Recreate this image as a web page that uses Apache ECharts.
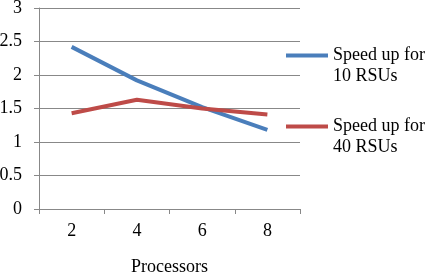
<!DOCTYPE html>
<html>
<head>
<meta charset="utf-8">
<script src="https://cdn.jsdelivr.net/npm/echarts@6/dist/echarts.min.js"></script>
<style>
  html, body { margin: 0; padding: 0; background: #fff; }
  #chart { width: 428px; height: 274px; }
</style>
</head>
<body>
<div id="chart"></div>
<script>
// 处理器数量 vs 加速比
var processors = ["2", "4", "6", "8"];
var speed10 = [2.42, 1.92, 1.52, 1.18];
var speed40 = [1.43, 1.63, 1.50, 1.41];
var seriesNames = ["Speed up for 10 RSUs", "Speed up for 40 RSUs"];
var yTicks = [0, 0.5, 1, 1.5, 2, 2.5, 3];

(function(){
  var myChart = echarts.init(document.getElementById('chart'));
  var font = "Liberation Serif";
  var option = {
    animation: false,
    grid: {
      left: 39,
      right: 128,
      top: 8,
      bottom: 65,
      outerBoundsMode: "none"
    },
    legend: {
      orient: "vertical",
      left: 286,
      top: 24,
      padding: 0,
      itemWidth: 42,
      itemHeight: 4,
      itemGap: 8,
      icon: "rect",
      data: seriesNames,
      // 空行放前面，让图例线对齐第一行文字
      formatter: function (name) {
        return "\n" + name.replace(" for ", " for\n");
      },
      textStyle: {
        fontFamily: font,
        fontSize: 18,
        color: "#000",
        lineHeight: 21
      }
    },
    xAxis: {
      type: "category",
      data: processors,
      boundaryGap: true,
      name: "Processors",
      nameLocation: "middle",
      nameGap: 49,
      nameTextStyle: { fontFamily: font, fontSize: 18, color: "#000" },
      axisLine: { lineStyle: { color: "#888", width: 1 } },
      axisTick: { show: true, alignWithLabel: false, length: 5, lineStyle: { color: "#888" } },
      axisLabel: { fontFamily: font, fontSize: 18, color: "#000", margin: 13 }
    },
    yAxis: {
      type: "value",
      min: yTicks[0],
      max: yTicks[yTicks.length - 1],
      interval: 0.5,
      axisLine: { show: true, lineStyle: { color: "#888", width: 1 } },
      axisTick: { show: true, length: 5, lineStyle: { color: "#888" } },
      axisLabel: { fontFamily: font, fontSize: 18, color: "#000", margin: 17 },
      splitLine: { lineStyle: { color: "#888", width: 1 } }
    },
    series: [
      {
        name: seriesNames[0],
        type: "line",
        data: speed10,
        symbol: "none",
        color: "#4A7EBB",
        lineStyle: { width: 4, color: "#4A7EBB" }
      },
      {
        name: seriesNames[1],
        type: "line",
        data: speed40,
        symbol: "none",
        color: "#BE4B48",
        lineStyle: { width: 4, color: "#BE4B48" }
      }
    ]
  };
  myChart.setOption(option);
  window.addEventListener("resize", function() {
    myChart.resize();
  });
})();
</script>
</body>
</html>
